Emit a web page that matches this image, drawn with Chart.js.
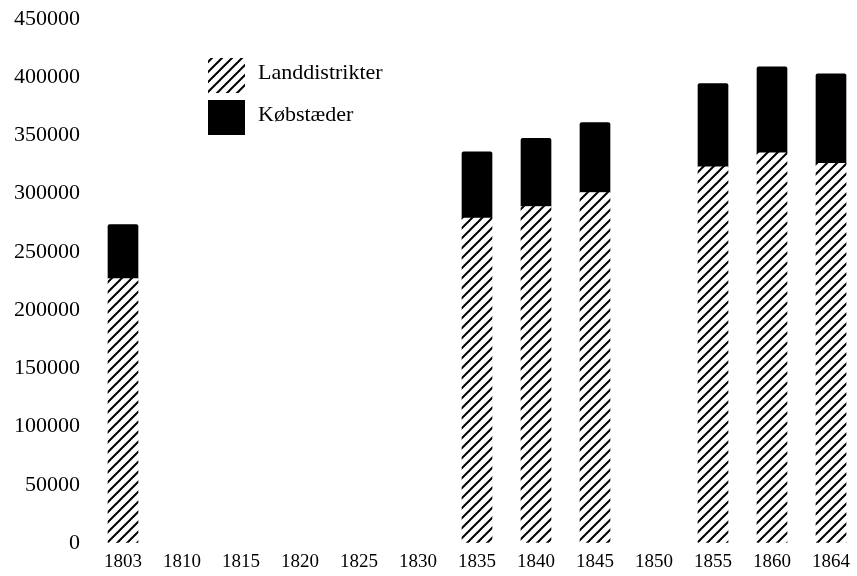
<!DOCTYPE html>
<html>
<head>
<meta charset="utf-8">
<script src="https://cdn.jsdelivr.net/npm/chart.js@4"></script>
<style>
  body { margin: 0; background: #fff; }
  #wrap { width: 857px; height: 576px; }
</style>
</head>
<body>
<div id="wrap"><canvas id="popChart"></canvas></div>
<script>
// years on the x axis
const years = ['1803', '1810', '1815', '1820', '1825', '1830', '1835', '1840', '1845', '1850', '1855', '1860', '1864'];

// population (null = no census shown)
const landdistrikter = [227000, null, null, null, null, null, 279000, 289000, 301000, null, 323000, 335000, 326000];
const kobstaeder = [46500, null, null, null, null, null, 57000, 58500, 60000, null, 71500, 74000, 77000];

const yMax = 450000;
const yStep = 50000;

//hatch pattern for the rural districts
function makeHatch() {
  const c = document.createElement('canvas');
  c.width = 10; c.height = 10;
  const g = c.getContext('2d');
  g.fillStyle = '#fff';
  g.fillRect(0, 0, 10, 10);
  g.strokeStyle = '#000';
  g.lineWidth = 2;
  g.beginPath();
  g.moveTo(0, 10); g.lineTo(10, 0);
  g.moveTo(-5, 5); g.lineTo(5, -5);
  g.moveTo(5, 15); g.lineTo(15, 5);
  g.stroke();
  return g.createPattern(c, 'repeat');
}
const hatch = makeHatch();

// legend drawn by hand, stacked vertically in the upper left
const boxLegend = {
  id: 'boxLegend',
  afterDraw(chart) {
    const ctx = chart.ctx;
    const sets = chart.data.datasets;
    ctx.save();
    ctx.font = '22px "Liberation Serif"';
    ctx.textBaseline = 'middle';
    sets.forEach((ds, i) => {
      const y = 58 + i * 42;
      ctx.fillStyle = ds.backgroundColor;
      ctx.fillRect(208, y, 37, 35);
      ctx.fillStyle = '#000';
      ctx.fillText(ds.label, 258, y + 15);
    });
    ctx.restore();
  }
};

const ctx = document.getElementById('popChart');

new Chart(ctx, {
  type: 'bar',
  data: {
    labels: years,
    datasets: [{
      label: 'Landdistrikter',
      data: landdistrikter,
      backgroundColor: hatch,
      borderWidth: 0,
      barThickness: 30,
      clip: false
    }, {
      label: 'Købstæder',
      data: kobstaeder,
      backgroundColor: '#000',
      borderWidth: 0,
      borderRadius: 2,
      borderSkipped: 'bottom',
      barThickness: 30,
      clip: false
    }]
  },
  options: {
    responsive: true,
    maintainAspectRatio: false,
    animation: false,
    layout: { padding: { top: 19, right: 26, bottom: 0, left: 0 } },
    plugins: {
      legend: { display: false },
      tooltip: { enabled: false }
    },
    scales: {
      x: {
        stacked: true,
        offset: false,
        grid: { display: true, drawOnChartArea: false, drawTicks: true, tickLength: 8, color: 'rgba(0,0,0,0)' },
        border: { display: false },
        ticks: {
          color: '#000',
          font: { family: 'Liberation Serif', size: 19 },
          padding: 0,
          maxRotation: 0,
          autoSkip: false
        },
        afterFit: s => { s.height = 33; }
      },
      y: {
        stacked: true,
        min: 0,
        max: yMax,
        grid: { display: true, drawOnChartArea: false, drawTicks: true, tickLength: 43, color: 'rgba(0,0,0,0)' },
        border: { display: false },
        ticks: {
          stepSize: yStep,
          color: '#000',
          font: { family: 'Liberation Serif', size: 22 },
          padding: 0,
          callback: v => String(v)
        },
        afterFit: s => { s.width = 123; }
      }
    }
  },
  plugins: [boxLegend]
});
</script>
</body>
</html>
